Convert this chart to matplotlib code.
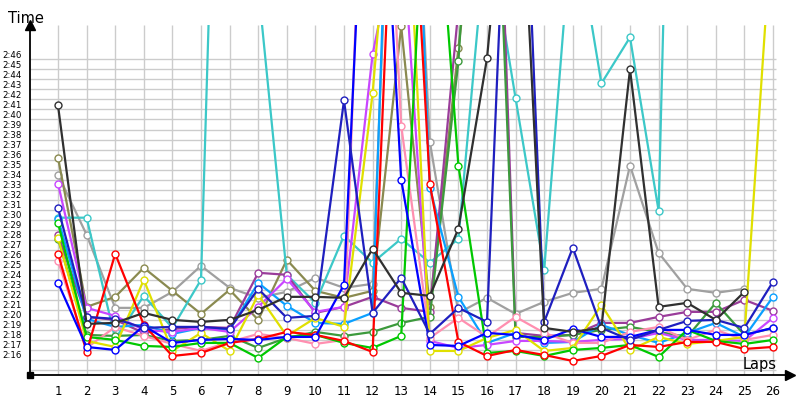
import numpy as np
import matplotlib
matplotlib.use("Agg")
import matplotlib.pyplot as plt

nan = np.nan
laps = list(range(1, 27))
# lap times, seconds after 2:00
black = [40.9, 19.1, 19.2, 20.2, 19.5, 19.3, 19.5, 20.5, 21.8, 21.8, 21.7, 26.6, 22.2, 21.9, 28.6, 45.6, 76.0, 18.7, 18.3, 18.7, 44.5, 20.8, 21.2, 19.5, 22.3, nan]
cyan = [29.7, 29.7, 17.6, 21.9, 18.7, 23.5, 120.0, 52.8, 24.0, 21.2, 27.9, 25.2, 27.6, 25.2, 27.6, 59.0, 41.6, 24.5, 60.4, 43.1, 47.7, 30.4, 145.0, nan, nan, nan]
olive = [35.7, 20.8, 21.8, 24.7, 22.4, 20.1, 22.5, 19.5, 25.5, 22.4, 21.7, 22.4, 48.8, 20.8, 46.6, 71.0, nan, nan, nan, nan, nan, nan, nan, nan, nan, nan]
gray = [34.0, 28.0, 20.7, 20.7, 22.3, 24.9, 22.7, 21.7, 22.3, 23.7, 22.7, 23.1, 94.0, 37.3, 20.2, 21.7, 20.1, 21.3, 22.2, 22.6, 34.9, 26.2, 22.6, 22.2, 22.6, nan]
navy = [30.7, 19.8, 19.6, 18.7, 18.8, 18.8, 18.6, 22.6, 19.7, 19.9, 41.4, 20.2, 23.7, 18.1, 20.7, 19.3, 88.0, 19.3, 26.7, 18.7, 17.5, 18.5, 19.4, 19.5, 18.7, 23.3]
blue = [23.2, 16.8, 16.5, 18.9, 17.2, 17.5, 17.6, 17.5, 17.8, 17.8, 23.0, 85.0, 33.5, 17.0, 16.9, 18.2, 18.0, 17.5, 18.6, 17.8, 17.8, 18.5, 18.5, 18.0, 18.0, 18.7]
red = [26.1, 16.3, 26.1, 19.0, 15.9, 16.2, 17.2, 17.6, 18.3, 18.0, 17.4, 16.3, 84.6, 33.1, 17.3, 15.9, 16.5, 16.0, 15.4, 15.9, 17.0, 16.8, 17.3, 17.3, 16.6, 16.8]
green = [29.2, 17.8, 17.5, 16.9, 16.8, 17.2, 17.2, 15.7, 17.8, 18.0, 17.2, 16.7, 17.9, 73.0, 34.9, 16.2, 16.4, 15.9, 16.5, 16.7, 17.0, 15.8, 18.5, 17.4, 17.1, 17.5]
darkgreen = [27.6, 18.0, 17.9, 18.0, 17.4, 17.5, 17.9, 16.7, 17.7, 18.3, 17.9, 18.3, 19.2, 19.8, 45.3, 90.0, 17.8, 17.8, 18.0, 18.5, 18.8, 18.3, 17.8, 21.2, 18.0, 18.7]
lightblue = [29.6, 19.6, 18.8, 19.0, 18.1, 18.7, 18.5, 23.2, 20.9, 19.2, 19.1, 20.2, 105.0, 32.7, 21.8, 17.2, 18.2, 17.2, 17.3, 19.0, 18.0, 17.2, 18.2, 19.2, 17.8, 21.8]
yellow = [27.7, 17.4, 16.8, 23.5, 16.4, 18.2, 16.4, 22.0, 17.9, 19.7, 18.8, 42.1, 76.0, 16.4, 16.4, 17.7, 18.5, 16.4, 16.7, 21.0, 16.5, 17.8, 17.1, 17.4, 17.8, 60.6]
pink = [25.4, 16.7, 18.8, 17.9, 17.1, 16.4, 17.3, 18.1, 17.7, 17.1, 17.5, 96.0, 38.9, 17.7, 19.7, 17.8, 19.8, 18.2, 17.2, 17.2, 18.3, 18.8, 17.5, 18.5, 17.5, 18.0]
purple = [28.0, 19.8, 19.5, 18.2, 18.6, 18.8, 18.7, 24.2, 24.0, 20.2, 20.8, 21.8, 20.7, 20.3, 50.5, 100.0, 18.2, 17.9, 18.0, 19.2, 19.2, 19.8, 20.3, 20.3, 21.5, 20.4]
violet = [33.1, 20.7, 19.9, 18.5, 18.3, 18.7, 18.3, 20.8, 23.6, 20.3, 20.8, 46.0, 60.0, 17.4, 16.7, 17.0, 17.4, 17.4, 17.3, 17.5, 17.6, 18.2, 17.5, 17.5, 17.4, 19.7]

series = [
    (gray, '#a0a0a0'), (olive, '#8a8a50'), (cyan, '#3cc8c8'), (purple, '#9a3c9a'),
    (darkgreen, '#3c9a3c'), (lightblue, '#0aa0ff'), (violet, '#c846ff'), (pink, '#ff8fb0'),
    (yellow, '#e0e000'), (green, '#00c800'), (red, '#ff0000'), (blue, '#0000ff'),
    (navy, '#1f1fbf'), (black, '#303030'),
]

base = 120.0
fig = plt.figure(figsize=(8, 4), dpi=100)
L, R, B, T = 30, 790, 375, 25
ax = fig.add_axes([L / 800, 1 - B / 400, (R - L) / 800, (B - T) / 400])

ymin, ymax = base + 14.0, base + 48.93
xmin, xmax = 1 - 28 / 28.6, 1 + (R - 58) / 28.6
ax.set_xlim(xmin, xmax)
ax.set_ylim(ymin, ymax)

# grid
grid_c = '#cccccc'
ax.vlines(laps, ymin, ymax, colors=grid_c, lw=1.0, zorder=0)
ax.hlines([base + k - 0.5 for k in range(15, 47)], xmin, 26.1, colors=grid_c, lw=1.0, zorder=0)

for vals, col in series:
    y = base + np.array(vals, dtype=float)
    ax.plot(laps, y, color=col, lw=1.6, marker='o', ms=5, mfc='white', mec=col, mew=1.0, zorder=3)

for s in ['top', 'right']:
    ax.spines[s].set_visible(False)
for s in ['left', 'bottom']:
    ax.spines[s].set_color('black')
    ax.spines[s].set_linewidth(1.3)
    ax.spines[s].set_zorder(5)

ax.plot([0], [1], marker='^', color='black', ms=7, transform=ax.transAxes, clip_on=False, zorder=6)
ax.plot([1], [0], marker='>', color='black', ms=7, transform=ax.transAxes, clip_on=False, zorder=6)
ax.plot([0], [0], marker='s', color='black', ms=4, transform=ax.transAxes, clip_on=False, zorder=6)

yt = list(range(16, 47))
ax.set_yticks([base + k for k in yt])
ax.set_yticklabels(['2:%02d' % k for k in yt], fontsize=6.2)
ax.set_xticks(laps)
ax.set_xticklabels([str(k) for k in laps], fontsize=8.5)
ax.tick_params(axis='both', length=0)
ax.tick_params(axis='y', pad=6)
ax.tick_params(axis='x', pad=7)

fig.text(8 / 800, 1 - 23 / 400, 'Time', fontsize=10.5, ha='left', va='baseline')
fig.text(743 / 800, 1 - 369 / 400, 'Laps', fontsize=10.5, ha='left', va='baseline')

fig.savefig('out.png', dpi=100)
